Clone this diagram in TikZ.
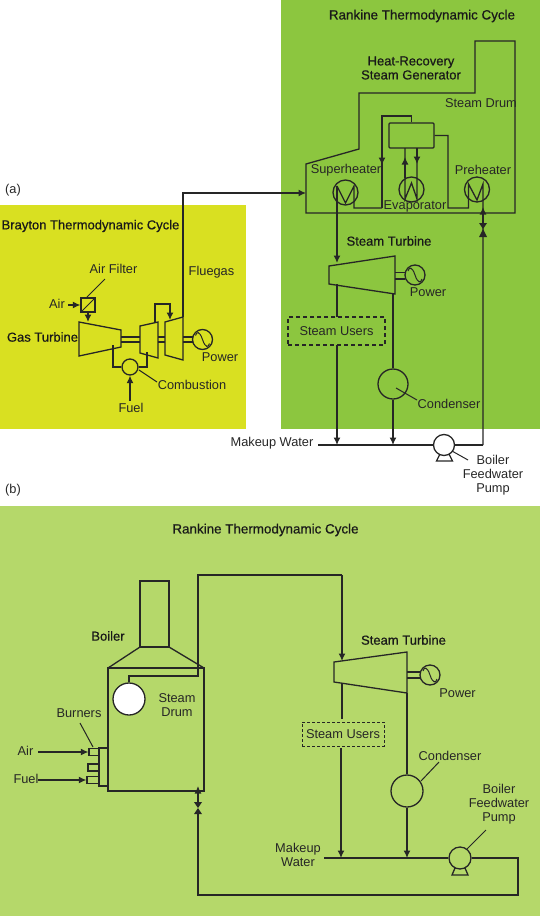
\documentclass[tikz,border=0pt]{standalone}
\usepackage{fontspec}
\setmainfont{Liberation Sans}
\newfontfamily\medfont[FakeBold=0.5]{Liberation Sans}
\usetikzlibrary{arrows.meta}
\definecolor{brayton}{HTML}{D9E021}
\definecolor{rankA}{HTML}{8CC63F}
\definecolor{rankB}{HTML}{B5D86A}
\tikzset{
  pipe/.style={draw=black!85,line width=1.3pt,line join=miter},
  flow/.style={pipe,-{Latex[length=7.5pt,width=7pt]}},
  lead/.style={draw=black!85,line width=1pt},
  lbl/.style={inner sep=0pt,font=\fontsize{12.8}{14}\selectfont,text=black!85,align=center},
  head/.style={inner sep=0pt,font=\medfont\fontsize{13}{14}\selectfont,text=black!90,align=center},
  title/.style={head,font=\medfont\fontsize{13.4}{14}\selectfont},
  vessel/.style={circle,draw=black!85,line width=1.3pt,inner sep=0pt,minimum size=#1},
  usersA/.style={draw=black!85,line width=1.7pt,dash pattern=on 4pt off 3pt,minimum width=97pt,minimum height=28pt,inner sep=0pt},
  usersB/.style={draw=black!85,line width=.9pt,dash pattern=on 3pt off 2pt,minimum width=82pt,minimum height=24pt,inner sep=0pt},
  stub/.style={draw=black!85,line width=1.3pt,minimum height=7pt,inner sep=0pt},
}
\newcommand{\genwave}[2]{\draw[lead] (#1-7,#2-4) .. controls (#1-6,#2-8) and (#1-3,#2-9) .. (#1,#2) .. controls (#1+3,#2+9) and (#1+6,#2+8) .. (#1+7,#2+4);}
\begin{document}
\begin{tikzpicture}[x=1pt,y=-1pt]
\useasboundingbox (0,0) rectangle (540,916);
% panels
\fill[brayton] (0,205) rectangle (246,429);
\fill[rankA] (281,0) rectangle (540,429);
\fill[rankB] (0,506) rectangle (540,916);
% ---------- (a) labels
\node[lbl] (tagA) at (13,190) {(a)};
\node[lbl] (tagB) at (13,490) {(b)};
\node[head] (tBrayton) at (90.5,226) {Brayton Thermodynamic Cycle};
\node[title] (tRankA) at (422,16) {Rankine Thermodynamic Cycle};
\node[head] (tHRSG) at (411,68) {Heat-Recovery\\Steam Generator};
\node[lbl] (lDrumA) at (481,103) {Steam Drum};
\node[lbl] (lSuper) at (346,170) {Superheater};
\node[lbl] (lPre) at (483,170) {Preheater};
\node[lbl] (lEvap) at (415,206) {Evaporator};
\node[head] (lTurbA) at (389,241) {Steam Turbine};
\node[lbl] (lPowA) at (428,292) {Power};
\node[lbl] (lCondA) at (449,404) {Condenser};
\node[lbl] (lMakeA) at (272,443) {Makeup Water};
\node[lbl] (lPumpA) at (493,475) {Boiler\\Feedwater\\Pump};
\node[lbl] (lFilter) at (113.5,269) {Air Filter};
\node[lbl] (lAirA) at (57,304) {Air};
\node[head] (lGas) at (42.5,337) {Gas Turbine};
\node[lbl] (lFlue) at (211.5,272) {Fluegas};
\node[lbl] (lPowG) at (220,357) {Power};
\node[lbl] (lComb) at (192,385) {Combustion};
\node[lbl] (lFuelA) at (131,408) {Fuel};
% ---------- HRSG
\draw[pipe] (306,213) -- (306,164) -- (359,149) -- (359,93) -- (475,93) -- (475,41) -- (515,41) -- (515,213) -- cycle;
\node[draw=black!85,line width=1.3pt,rounded corners=1pt,minimum width=45pt,minimum height=25pt,inner sep=0pt] (drumA) at (411.5,135.5) {};
\node[vessel=25pt] (sup) at (345.5,192.5) {};
\node[vessel=25pt] (eva) at (411.5,189.5) {};
\node[vessel=25pt] (pre) at (477,189.5) {};
% superheater
\coordinate (tkIn) at (337,263);
\draw[flow] (337,186) -- (tkIn);
\draw[pipe] (337,186) -- (345.5,203) -- (354,186) -- (354,208) -- (382,208);
\draw[pipe] (drumA.north) -- (411.5,116) -- (382,116) -- (382,208);
\draw[flow] (382,116) -- (382,165);
% evaporator
\draw[pipe] (405,148) -- (405,199) -- (411.5,183) -- (417,199) -- (417,148);
\draw[flow] (405,178) -- (405,157);
\draw[flow] (417,148) -- (417,164);
% preheater
\draw[pipe] (drumA.east) -- (448,135.5) -- (448,208) -- (468.5,208) -- (468.5,184) -- (477,200) -- (483,184) -- (483,445);
\draw[flow] (483,225) -- (483,207);
\fill[black!85] (479,223) -- (487,223) -- (483,229) -- cycle;
\fill[black!85] (479,237) -- (487,237) -- (483,229) -- cycle;
% fluegas
\coordinate (hrsgIn) at (306,193);
\draw[flow] (183,317) -- (183,193) -- (hrsgIn);
% ---------- Steam turbine A
\draw[pipe] (329,266) -- (395,256) -- (395,294) -- (329,284) -- cycle;
\draw[pipe] (395,272.5) -- (405,272.5) (395,279) -- (405,279);
\node[vessel=20pt] (genA) at (415,275) {};
\genwave{415}{275}
\node[lbl,usersA] (boxUsersA) at (336.5,331) {Steam Users};
\draw[pipe] (337,284) -- (337,317);
\coordinate (joinA1) at (337,445);
\coordinate (joinA2) at (393,445);
\draw[flow] (337,345) -- (joinA1);
\node[vessel=30pt] (condA) at (393,384) {};
\draw[pipe] (393,293) -- (condA.north);
\draw[flow] (condA.south) -- (joinA2);
\draw[lead] (396,388) -- (417,400);
\node[vessel=21pt] (pumpA) at (444,445) {};
\coordinate (mwA) at (318,445);
\draw[pipe] (mwA) -- (pumpA.west);
\draw[pipe] (pumpA.east) -- (483,445);
\draw[pipe] (440,454) -- (436.5,461) -- (452.5,461) -- (449,454);
\draw[lead] (452,451) -- (468,460);
% ---------- Brayton
\node[draw=black!85,line width=1.3pt,minimum size=14pt,inner sep=0pt] (filter) at (88,305) {};
\draw[lead] (filter.south west) -- (filter.north east);
\draw[lead] (105,279) -- (87,297);
\coordinate (airA) at (68,305);
\draw[flow] (airA) -- (filter.west);
\draw[flow] (filter.south) -- (88,322);
\draw[pipe] (79,322) -- (121,330) -- (121,347) -- (79,356) -- cycle;
\draw[pipe] (121,337) -- (140,337) (121,342) -- (140,342);
\draw[pipe] (140,326) -- (158,322) -- (158,358) -- (140,353) -- cycle;
\draw[pipe] (158,337) -- (165,337) (158,342) -- (165,342);
\draw[pipe] (165,322) -- (183,317) -- (183,360) -- (165,355) -- cycle;
\draw[pipe] (183,337) -- (193,337) (183,342) -- (193,342);
\node[vessel=20pt] (genG) at (202.5,339.5) {};
\genwave{202.5}{339.5}
\node[vessel=16pt] (comb) at (130,367) {};
\draw[pipe] (113,345) -- (113,367) -- (comb.west);
\draw[pipe] (comb.east) -- (147,367) -- (147,352);
\coordinate (fuelA) at (130,401);
\draw[flow] (fuelA) -- (comb.south);
\draw[lead] (139,370) -- (157,382);
\draw[flow] (155,323) -- (155,304) -- (170,304) -- (170,320);
% ---------- panel b
\node[title] (tRankB) at (265.5,530) {Rankine Thermodynamic Cycle};
\node[head] (lBoiler) at (108,636) {Boiler};
\node[lbl] (lDrumB) at (177,705) {Steam\\Drum};
\node[lbl] (lBurn) at (79,713) {Burners};
\node[lbl] (lAirB) at (25.5,751) {Air};
\node[lbl] (lFuelB) at (26,779) {Fuel};
\node[head] (lTurbB) at (403.5,640) {Steam Turbine};
\node[lbl] (lPowB) at (457.5,693) {Power};
\node[lbl] (lCondB) at (450,756) {Condenser};
\node[lbl] (lMakeB) at (298,854.5) {Makeup\\Water};
\node[lbl] (lPumpB) at (499,804) {Boiler\\Feedwater\\Pump};
% boiler
\draw[pipe] (140,647) -- (140,581) -- (169,581) -- (169,647) -- cycle;
\draw[pipe] (108,668) -- (140,647) (169,647) -- (204,668);
\draw[pipe] (108,668) rectangle (204,791);
\node[vessel=32pt,fill=white] (drumB) at (129,699) {};
\coordinate (tbIn) at (342,661);
\draw[pipe] (drumB.north) -- (129,676) -- (198,676) -- (198,575) -- (342,575);
\draw[flow] (342,575) -- (tbIn);
% burners
\draw[pipe] (99,748) rectangle (108,786);
\node[stub,minimum width=10pt] (brn1) at (94,752) {};
\node[stub,minimum width=11pt] (brn2) at (93.5,767.5) {};
\node[stub,minimum width=12pt] (brn3) at (93,780) {};
\coordinate (airB) at (38,752);
\coordinate (fuelB) at (38,780);
\draw[flow] (airB) -- (brn1.west);
\draw[flow] (fuelB) -- (brn3.west);
\draw[lead] (80,723) -- (93,747);
% turbine b
\draw[pipe] (334,662) -- (407,652) -- (407,693) -- (334,682) -- cycle;
\draw[pipe] (407,672) -- (421,672) (407,678) -- (421,678);
\node[vessel=20pt] (genB) at (430,675) {};
\genwave{430}{675}
\node[lbl,usersB] (boxUsersB) at (343,734) {Steam Users};
\draw[pipe] (342,683) -- (342,719);
\coordinate (joinB1) at (341,858);
\coordinate (joinB2) at (407,858);
\draw[flow] (341,748) -- (joinB1);
\node[vessel=32pt] (condB) at (407,791) {};
\draw[pipe] (407,693) -- (condB.north);
\draw[flow] (condB.south) -- (joinB2);
\draw[lead] (439,762) -- (421,781);
\node[vessel=22pt] (pumpB) at (460,858) {};
\coordinate (mwB) at (324,858);
\draw[pipe] (mwB) -- (pumpB.west);
\draw[pipe] (pumpB.east) -- (518,858) -- (518,895) -- (198,895) -- (198,814);
\draw[flow] (198,802) -- (198,786);
\fill[black!85] (194,802) -- (202,802) -- (198,808) -- cycle;
\fill[black!85] (194,814) -- (202,814) -- (198,808) -- cycle;
\draw[pipe] (455,868) -- (452,875) -- (468,875) -- (465,868);
\draw[lead] (486,830) -- (467,849);
\end{tikzpicture}
\end{document}
